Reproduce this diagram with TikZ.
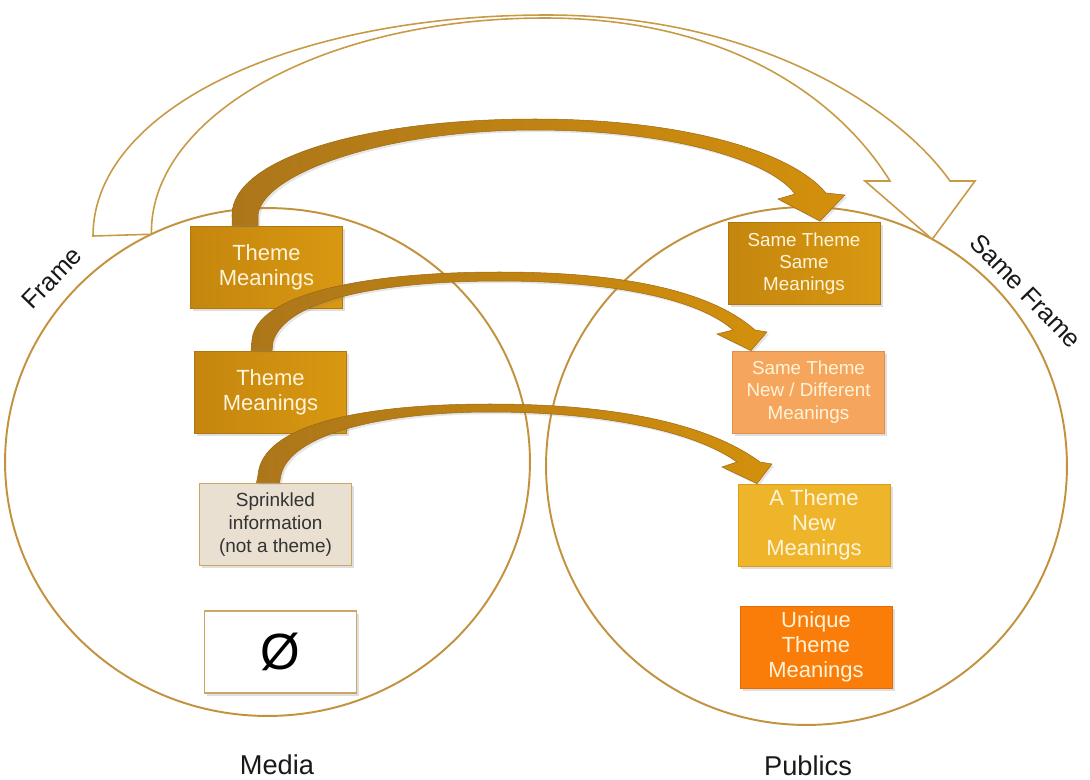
\documentclass[tikz,border=0pt]{standalone}
\usepackage{fontspec}
\setmainfont{Liberation Sans}
\usetikzlibrary{shapes.geometric,shadows,calc}

\definecolor{ringc}{HTML}{C2923E}
\definecolor{hollowc}{HTML}{C99A45}
\definecolor{goldL}{HTML}{C4860E}
\definecolor{goldR}{HTML}{D99811}
\definecolor{goldD}{HTML}{B0780C}
\definecolor{boxtext}{HTML}{FFF4DA}
\definecolor{sandfill}{HTML}{E9E0D2}
\definecolor{sandline}{HTML}{CDA664}
\definecolor{lightor}{HTML}{F5A65C}
\definecolor{lightorD}{HTML}{E0904A}
\definecolor{yel}{HTML}{EEB52A}
\definecolor{yelD}{HTML}{D89E1C}
\definecolor{orng}{HTML}{FA7D0A}
\definecolor{orngD}{HTML}{E06C05}
\definecolor{rbA}{HTML}{AC761A}
\definecolor{rbB}{HTML}{D3900C}
\definecolor{rbD}{HTML}{9E6A12}

\begin{document}
\begin{tikzpicture}[x=0.02cm, y=-0.02cm]
\tikzset{
  ring/.style={ellipse, draw=ringc, line width=1.1pt, inner sep=0pt, outer sep=0pt},
  box/.style={rectangle, minimum width=3.04cm, minimum height=1.64cm, inner sep=1pt,
    align=center, line width=0.5pt,
    drop shadow={shadow xshift=1.6pt, shadow yshift=-1.6pt, opacity=0.25}},
  bigtxt/.style={font={\fontsize{12.5}{14.3}\selectfont}, text=boxtext},
  smalltxt/.style={font={\fontsize{10.7}{12.6}\selectfont}, text=boxtext},
  goldbox/.style={box, left color=goldL, right color=goldR, draw=goldD},
  sprbox/.style={box, fill=sandfill, draw=sandline, line width=1.1pt,
    font={\fontsize{10.8}{13}\selectfont}, text=black!80},
  nullbox/.style={box, fill=white, draw=sandline, line width=1.1pt,
    font={\fontsize{29}{32}\selectfont}, text=black},
  ribbon/.style={left color=rbA, right color=rbB, draw=rbD, line width=0.3pt,
    drop shadow={shadow xshift=1.2pt, shadow yshift=-1.2pt, opacity=0.2}},
  hollow/.style={draw=hollowc, line width=0.9pt, line join=miter},
  lab/.style={font={\fontsize{14.5}{16}\selectfont}, text=black!90, inner sep=0pt},
  biglab/.style={font={\fontsize{15.5}{17}\selectfont}, text=black!90, inner sep=0pt}
}

% canvas
\path[use as bounding box, fill=white] (0,0) rectangle (1090,779);

% the two sets
\node[ring, minimum width=10.5cm, minimum height=10.16cm] (mediaE) at (267.5,462) {};
\node[ring, minimum width=10.42cm, minimum height=10.36cm] (publicsE) at (806.5,466) {};

% media side
\node[goldbox, bigtxt] (m1) at (266.5,267) {Theme\\Meanings};
\node[goldbox, bigtxt] (m2) at (270.5,392) {Theme\\Meanings};
\node[sprbox] (m3) at (275.5,524.5) {Sprinkled\\information\\(not a theme)};
\node[nullbox] (m4) at (280.5,652) {Ø};

% publics side
\node[goldbox, smalltxt] (p1) at (804,263.5) {Same Theme\\Same\\Meanings};
\node[box, fill=lightor, draw=lightorD, smalltxt] (p2) at (808.5,392) {Same Theme\\New / Different\\Meanings};
\node[box, fill=yel, draw=yelD, bigtxt] (p3) at (814,525) {A Theme\\New\\Meanings};
\node[box, fill=orng, draw=orngD, bigtxt] (p4) at (816,647) {Unique\\Theme\\Meanings};

% ribbon arrows: ends fixed on the boxes
\coordinate (a1o) at ($(m1.north west)+(42,0)$);
\coordinate (a1i) at ($(m1.north west)+(68,0)$);
\coordinate (a1tip) at ($(p1.north)+(16,-1)$);
\path[ribbon] (a1o) -- (232,215) .. controls (232,160) and (360,119) .. (535,119)
  .. controls (680,119) and (790,150) .. (826,193) -- (845,195) -- (a1tip) -- (778,199) -- (795,194)
  .. controls (770,160) and (670,130) .. (535,130)
  .. controls (380,130) and (262,175) .. (258,215) -- (a1i) -- cycle;

\coordinate (a2o) at ($(m2.north west)+(57,0)$);
\coordinate (a2i) at ($(m2.north west)+(78,0)$);
\coordinate (a2tip) at ($(p2.north)+(-57.5,0)$);
\path[ribbon] (a2o) -- (252,340) .. controls (256,295) and (360,272) .. (500,272)
  .. controls (620,272) and (710,290) .. (755,330) -- (767,332) -- (a2tip) -- (717,334) -- (733,330)
  .. controls (700,300) and (615,281) .. (500,281)
  .. controls (380,281) and (285,300) .. (273,342) -- (a2i) -- cycle;

\coordinate (a3o) at ($(m3.north west)+(58,0)$);
\coordinate (a3i) at ($(m3.north west)+(81,0)$);
\coordinate (a3tip) at ($(p3.north)+(-57,0)$);
\path[ribbon] (a3o) -- (258,475) .. controls (262,425) and (360,404) .. (490,404)
  .. controls (620,404) and (710,425) .. (760,462) -- (772,464) -- (a3tip) -- (722,467) -- (737,462)
  .. controls (700,435) and (615,412) .. (490,412)
  .. controls (380,412) and (290,435) .. (281,475) -- (a3i) -- cycle;

% outlined frame arrow from one set to the other
\coordinate (ftail) at (mediaE.117);
\coordinate (ftip) at (publicsE.61.5);
\draw[hollow] (93,236) .. controls (93,110) and (290,15) .. (547,15)
  .. controls (760,15) and (900,110) .. (950,181) -- (975,181) -- (ftip) -- (865,181) -- (890,181)
  .. controls (840,100) and (730,18) .. (545,18)
  .. controls (320,18) and (149,118) .. (ftail) -- cycle;

% labels
\node[lab, rotate=46] (frameL) at (52,278) {Frame};
\node[lab, rotate=-46] (sameL) at (1026,291) {Same Frame};
\node[biglab] (mediaL) at (277,765) {Media};
\node[biglab] (publicsL) at (808,766) {Publics};
\end{tikzpicture}
\end{document}
